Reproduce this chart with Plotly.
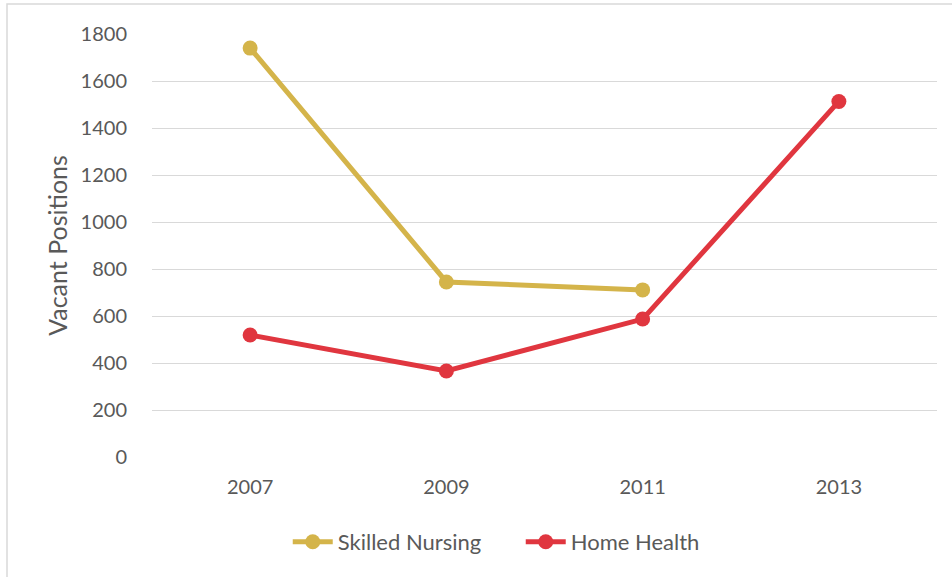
import plotly.graph_objects as go

years = ["2007", "2009", "2011", "2013"]
skilled_nursing = [1740, 745, 711, None]
home_health = [519, 366, 587, 1513]
y_ticks = [0, 200, 400, 600, 800, 1000, 1200, 1400, 1600, 1800]

FONT = "Lato"
TXT = "#595959"

fig = go.Figure()
fig.add_trace(go.Scatter(x=years, y=skilled_nursing, name="Skilled Nursing",
                         mode="lines+markers",
                         line=dict(color="#D4B44A", width=5),
                         marker=dict(size=15, color="#D4B44A")))
fig.add_trace(go.Scatter(x=years, y=home_health, name="Home Health",
                         mode="lines+markers",
                         line=dict(color="#E0363F", width=5),
                         marker=dict(size=15, color="#E0363F")))

W, H = 952, 577
L, R, T, B = 152, 15, 34, 120
pw = W - L - R
ph = H - T - B

fig.update_layout(
    width=W, height=H,
    margin=dict(l=L, r=R, t=T, b=B),
    paper_bgcolor="white", plot_bgcolor="white",
    font=dict(family=FONT, size=20, color=TXT),
    showlegend=True,
    legend=dict(orientation="h", xref="container", yref="container",
                x=0.547, xanchor="center", y=1 - 542 / H, yanchor="middle",
                font=dict(family=FONT, size=22, color=TXT), itemwidth=40,
                entrywidth=178, entrywidthmode="pixels",
                tracegroupgap=0),
    xaxis=dict(type="category", range=[-0.5, 3.5], showgrid=False, zeroline=False,
               showline=False, ticks="", tickfont=dict(size=20, color=TXT),
               ticklabelstandoff=16),
    yaxis=dict(range=[0, 1800], tickvals=y_ticks, showgrid=True, gridcolor="#D9D9D9",
               gridwidth=1.3, zeroline=False, showline=False, ticks="",
               tickfont=dict(size=20, color=TXT), ticklabelstandoff=24,
               title=dict(text="Vacant Positions", font=dict(size=25, color=TXT), standoff=5)),
    shapes=[dict(type="rect", xref="paper", yref="paper",
                 x0=(7 - L) / pw, x1=(W + 20 - L) / pw,
                 y0=-(H + 20 - (H - B)) / ph, y1=(H - B - 4) / ph,
                 line=dict(color="#D9D9D9", width=1.5), fillcolor="rgba(0,0,0,0)",
                 layer="below")],
)

fig.write_html("out.html", config={"displayModeBar": False},
               post_script="document.body.style.margin='0';")
